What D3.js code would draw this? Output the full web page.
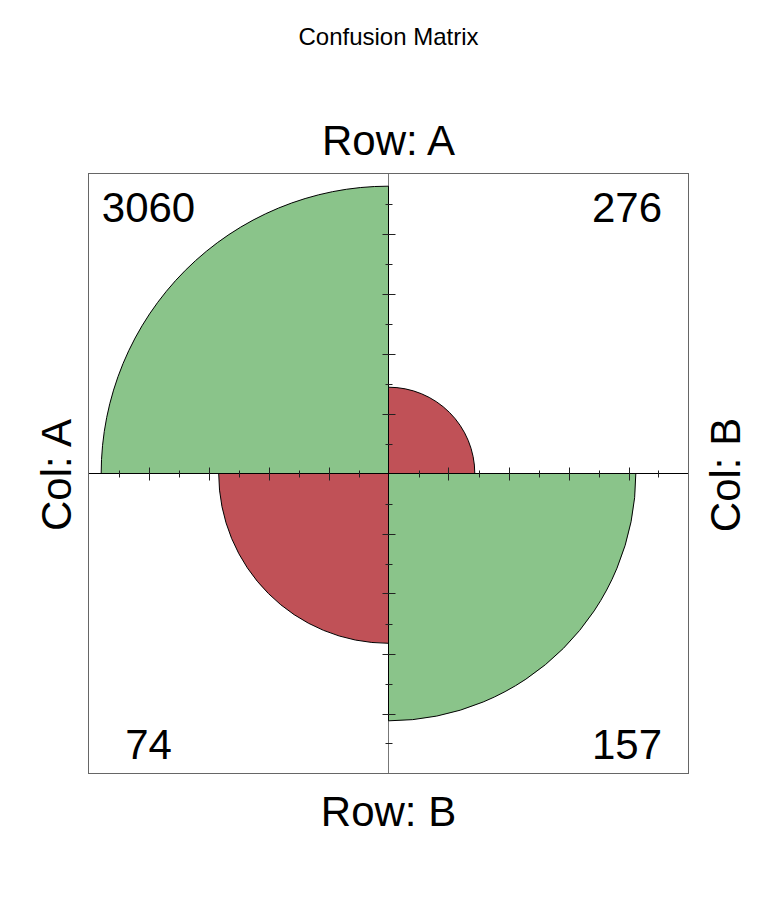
<!DOCTYPE html>
<html>
<head>
<meta charset="utf-8">
<script src="https://cdn.jsdelivr.net/npm/d3@7"></script>
<style>
  html, body { margin: 0; padding: 0; background: #fff; }
  svg { display: block; font-family: "Liberation Sans", Arial, sans-serif; }
</style>
</head>
<body>
<div id="chart"></div>
<script>
// ---- data ----
const title = "Confusion Matrix";
const rowNames = ["A", "B"];
const colNames = ["A", "B"];
const rowA = [3060, 276];   // Row A: Col A, Col B
const rowB = [74, 157];     // Row B: Col A, Col B
const tickValues = [0.1, 0.2, 0.3, 0.4, 0.5, 0.6, 0.7, 0.8, 0.9];
const majorTicks = [0.2, 0.4, 0.6, 0.8];
const diagColor = "#8AC48A";
const offColor = "#C05157";

// ---- layout ----
const W = 778, H = 901;
const svg = d3.select("#chart").append("svg").attr("width", W).attr("height", H);

const x = d3.scaleLinear().domain([-1, 1]).range([88.5, 688.5]);
const y = d3.scaleLinear().domain([-1, 1]).range([773.5, 173.5]);
const cx = x(0), cy = y(0);
const rad = d3.scaleSqrt().domain([0, 1]).range([0, x(1) - x(0)]);

// row-wise standardization
const rows = [rowA, rowB];
const cells = [];
rows.forEach((row, i) => {
  const tot = d3.sum(row);
  row.forEach((v, j) => {
    cells.push({ i, j, value: v, prop: v / tot });
  });
});
// quadrant angles (d3.arc: 0 = 12 o'clock, clockwise)
const quad = {
  "0-0": [-Math.PI / 2, 0],
  "0-1": [0, Math.PI / 2],
  "1-1": [Math.PI / 2, Math.PI],
  "1-0": [Math.PI, 3 * Math.PI / 2]
};
// label positions in data units
const labelPos = {
  "0-0": [-0.8, 0.838],
  "0-1": [0.795, 0.838],
  "1-0": [-0.8, -0.952],
  "1-1": [0.795, -0.952]
};

const g = svg.append("g");

// vertical axis (gray)
g.append("line")
  .attr("x1", cx).attr("x2", cx).attr("y1", y(1)).attr("y2", y(-1))
  .attr("stroke", "#777").attr("stroke-width", 1);

// quadrants
const arc = d3.arc().innerRadius(0);
g.selectAll("path.quad").data(cells).enter().append("path")
  .attr("class", "quad")
  .attr("transform", `translate(${cx},${cy})`)
  .attr("d", d => arc({
    outerRadius: rad(d.prop),
    startAngle: quad[d.i + "-" + d.j][0],
    endAngle: quad[d.i + "-" + d.j][1]
  }))
  .attr("fill", d => d.i === d.j ? diagColor : offColor)
  .attr("stroke", "#000").attr("stroke-width", 1);

// horizontal axis (black)
g.append("line")
  .attr("x1", x(-1)).attr("x2", x(1)).attr("y1", cy).attr("y2", cy)
  .attr("stroke", "#000").attr("stroke-width", 1);

// ticks
const tickData = [];
tickValues.forEach(t => {
  const len = majorTicks.includes(t) ? 6.5 : 3.5;
  [-1, 1].forEach(s => {
    tickData.push({ x1: x(s * t), x2: x(s * t), y1: cy - len, y2: cy + len });
    tickData.push({ x1: cx - len, x2: cx + len, y1: y(s * t), y2: y(s * t) });
  });
});
g.selectAll("line.tick").data(tickData).enter().append("line")
  .attr("class", "tick")
  .attr("x1", d => Math.round(d.x1) + 0.5).attr("x2", d => Math.round(d.x2) + 0.5)
  .attr("y1", d => Math.round(d.y1) + 0.5).attr("y2", d => Math.round(d.y2) + 0.5)
  .attr("stroke", "#222").attr("stroke-width", 1);

// box
g.append("rect")
  .attr("x", x(-1)).attr("y", y(1))
  .attr("width", x(1) - x(-1)).attr("height", y(-1) - y(1))
  .attr("fill", "none").attr("stroke", "#666").attr("stroke-width", 1);

// counts
g.selectAll("text.count").data(cells).enter().append("text")
  .attr("class", "count")
  .attr("x", d => x(labelPos[d.i + "-" + d.j][0]))
  .attr("y", d => y(labelPos[d.i + "-" + d.j][1]))
  .attr("text-anchor", "middle")
  .attr("font-size", 42)
  .attr("fill", "#000")
  .text(d => d.value);

// title
svg.append("text")
  .attr("x", 388.5).attr("y", 45)
  .attr("text-anchor", "middle").attr("font-size", 24)
  .text(title);

// row labels
svg.append("text")
  .attr("x", cx).attr("y", 155)
  .attr("text-anchor", "middle").attr("font-size", 42)
  .text("Row: " + rowNames[0]);
svg.append("text")
  .attr("x", cx).attr("y", 826)
  .attr("text-anchor", "middle").attr("font-size", 42)
  .text("Row: " + rowNames[1]);

// column labels
svg.append("text")
  .attr("transform", `translate(70.5,${cy + 1.5}) rotate(-90)`)
  .attr("text-anchor", "middle").attr("font-size", 42)
  .text("Col: " + colNames[0]);
svg.append("text")
  .attr("transform", `translate(740,${cy + 1.5}) rotate(-90)`)
  .attr("text-anchor", "middle").attr("font-size", 42)
  .text("Col: " + colNames[1]);
</script>
</body>
</html>
